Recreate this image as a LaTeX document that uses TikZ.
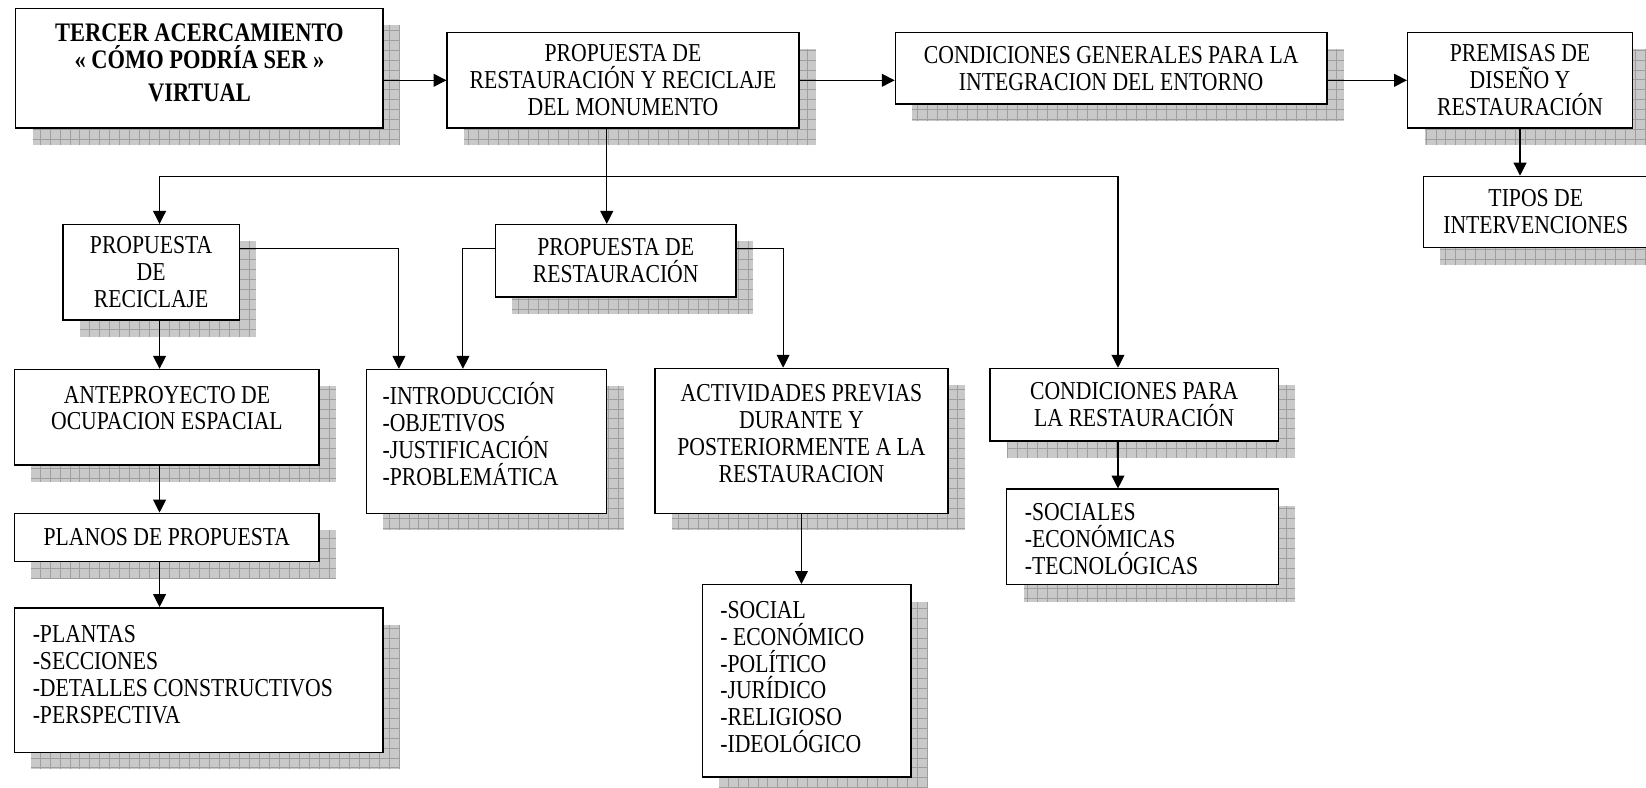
\documentclass[tikz,border=0pt]{standalone}
\usepackage{fontspec}
\setmainfont{Liberation Serif}[FakeStretch=0.84]
\usetikzlibrary{arrows.meta,fit}

\begin{document}
\begin{tikzpicture}[x=0.02cm, y=-0.02cm,
	caja/.style={draw, fill=white, line width=0.8pt, inner sep=0pt},
	texto/.style={font=\fontsize{14}{14.6}\selectfont, inner sep=0pt},
	sombra/.style={fill=black!21},
	rejilla/.style={draw=black!38, line width=0.3pt, step=0.19cm},
	flecha/.style={-{Triangle[length=7pt,width=7pt]}, line width=0.6pt}]

\useasboundingbox (0,0) rectangle (1568,750);

\foreach \xa/\ya/\xb/\yb in {15/8/365/122, 426/31/761/122, 853/31/1264/99, 1341/31/1555/122,
	1356/168/1570/236, 60/214/228/305, 472/214/701/283, 14/352/304/443, 14/489/304/535,
	14/579/365/717, 349/352/578/489, 624/351/903/489, 669/557/868/740, 943/351/1218/420,
	959/466/1218/557}
{
	\fill[sombra] (\xa+16,\ya+16) rectangle (\xb+16,\yb+16);
	\draw[rejilla] (\xa+16,\ya+16) grid (\xb+16,\yb+16);
}

\node[caja, fit={(15,8) (365,122)}] (tercer) {};
\node[caja, fit={(426,31) (761,122)}] (prr) {};
\node[caja, fit={(853,31) (1264,99)}] (cgi) {};
\node[caja, fit={(1341,31) (1555,122)}] (prem) {};
\node[caja, fit={(1356,168) (1570,236)}] (tipos) {};
\node[caja, fit={(60,214) (228,305)}] (preci) {};
\node[caja, fit={(472,214) (701,283)}] (prest) {};
\node[caja, fit={(14,352) (304,443)}] (ante) {};
\node[caja, fit={(14,489) (304,535)}] (planos) {};
\node[caja, fit={(14,579) (365,717)}] (plantas) {};
\node[caja, fit={(349,352) (578,489)}] (intro) {};
\node[caja, fit={(624,351) (903,489)}] (act) {};
\node[caja, fit={(669,557) (868,740)}] (social) {};
\node[caja, fit={(943,351) (1218,420)}] (cpr) {};
\node[caja, fit={(959,466) (1218,557)}] (sociales) {};

\node[texto, align=center, font=\fontsize{14.5}{14.6}\selectfont\bfseries] (tercer-t) at ([yshift=3pt]tercer.center) {TERCER ACERCAMIENTO\\« CÓMO PODRÍA SER »\\[3pt]VIRTUAL};
\node[texto, align=center] (prr-t) at (prr.center) {PROPUESTA DE\\RESTAURACIÓN Y RECICLAJE\\DEL MONUMENTO};
\node[texto, align=center] (cgi-t) at (cgi.center) {CONDICIONES GENERALES PARA LA\\INTEGRACION DEL ENTORNO};
\node[texto, align=center] (prem-t) at (prem.center) {PREMISAS DE\\DISEÑO Y\\RESTAURACIÓN};
\node[texto, align=center] (tipos-t) at (tipos.center) {TIPOS DE\\INTERVENCIONES};
\node[texto, align=center] (preci-t) at (preci.center) {PROPUESTA\\DE\\RECICLAJE};
\node[texto, align=center] (prest-t) at (prest.center) {PROPUESTA DE\\RESTAURACIÓN};
\node[texto, align=center] (ante-t) at ([yshift=5pt]ante.center) {ANTEPROYECTO DE\\OCUPACION ESPACIAL};
\node[texto, align=center] (planos-t) at (planos.center) {PLANOS DE PROPUESTA};
\node[texto, align=left, anchor=west] (plantas-t) at ([xshift=10pt,yshift=3pt]plantas.west) {-PLANTAS\\-SECCIONES\\-DETALLES CONSTRUCTIVOS\\-PERSPECTIVA};
\node[texto, align=left, anchor=west] (intro-t) at ([xshift=9pt,yshift=4pt]intro.west) {-INTRODUCCIÓN\\-OBJETIVOS\\-JUSTIFICACIÓN\\-PROBLEMÁTICA};
\node[texto, align=center] (act-t) at ([yshift=4pt]act.center) {ACTIVIDADES PREVIAS\\DURANTE Y\\POSTERIORMENTE A LA\\RESTAURACION};
\node[texto, align=left, anchor=west] (social-t) at ([xshift=10pt,yshift=2pt]social.west) {-SOCIAL\\- ECONÓMICO\\-POLÍTICO\\-JURÍDICO\\-RELIGIOSO\\-IDEOLÓGICO};
\node[texto, align=center] (cpr-t) at (cpr.center) {CONDICIONES PARA\\LA RESTAURACIÓN};
\node[texto, align=left, anchor=west] (sociales-t) at ([xshift=10pt,yshift=-1pt]sociales.west) {-SOCIALES\\-ECONÓMICAS\\-TECNOLÓGICAS};

\coordinate (c1) at (152,168);
\coordinate (c2) at (578,168);
\coordinate (c3) at (1065,168);
\coordinate (d1) at (380,237);
\coordinate (d2) at (441,237);
\coordinate (d3) at (746,237);

\draw[flecha] (tercer.east |- prr.west) -- (prr.west);
\draw[flecha] (prr.east) -- (prr.east -| cgi.west);
\draw[flecha] (cgi.east |- prem.west) -- (prem.west);
\draw[flecha] (prem.south) -- (prem.south |- tipos.north);

\draw[line width=0.6pt] (prr.south -| c2) -- (c2);
\draw[flecha] (c2) -| (preci.north -| c1);
\draw[flecha] (c2) -| (cpr.north -| c3);
\draw[flecha] (c2) -- (prest.north -| c2);

\draw[flecha] (preci.east |- d1) -| (intro.north -| d1);
\draw[flecha] (prest.west |- d2) -| (intro.north -| d2);
\draw[flecha] (prest.east |- d3) -| (act.north -| d3);

\draw[flecha] (preci.south -| c1) -- (ante.north -| c1);
\draw[flecha] (ante.south -| c1) -- (planos.north -| c1);
\draw[flecha] (planos.south -| c1) -- (plantas.north -| c1);
\draw[flecha] (act.south) -- (act.south |- social.north);
\draw[flecha] (cpr.south -| c3) -- (sociales.north -| c3);
\end{tikzpicture}
\end{document}
